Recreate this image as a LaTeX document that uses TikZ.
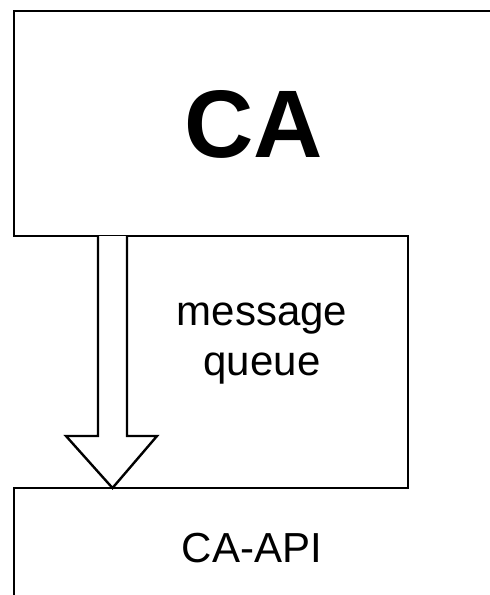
\documentclass[tikz,border=0pt]{standalone}
\usepackage{fontspec}
\setmainfont{Liberation Sans}
\usetikzlibrary{math}

\begin{document}
\begin{tikzpicture}[x=1pt,y=-1pt,line width=2.8pt]
\tikzmath{
\L=14;
\Rq=408;
\Tca=11;
\Bca=236;
\Bq=488;
\sl=98;
\sr=127;
\hl=66;
\hr=157;
\hy=436;
}
\useasboundingbox (0,0) rectangle (490,595);

\coordinate (caTR) at (490,\Tca);
\coordinate (caTL) at (\L,\Tca);
\coordinate (qTL) at (\L,\Bca);
\coordinate (qTR) at (\Rq,\Bca);
\coordinate (qBR) at (\Rq,\Bq);
\coordinate (apiTL) at (\L,\Bq);
\coordinate (apiBL) at (\L,595);
\coordinate (tip) at ({(\sl+\sr)/2},\Bq);

% boxes
\draw (caTR) -- (caTL) -- (qTL) -- (qTR) -- (qBR) -- (apiTL) -- (apiBL);

% block arrow
\draw[fill=white, line width=2.4pt] (\sl,\Bca) -- (\sl,\hy) -- (\hl,\hy) -- (tip) -- (\hr,\hy) -- (\sr,\hy) -- (\sr,\Bca);

\node[anchor=base, inner sep=0pt, font=\bfseries\fontsize{96}{96}\selectfont] (ca) at (254,157) {CA};
\node[anchor=base, inner sep=0pt, align=center, font=\fontsize{42}{50}\selectfont] (queue) at (262,375) {message\\queue};
\node[anchor=base, inner sep=0pt, font=\fontsize{42}{50}\selectfont] (api) at (252,562) {CA-API};
\end{tikzpicture}
\end{document}
